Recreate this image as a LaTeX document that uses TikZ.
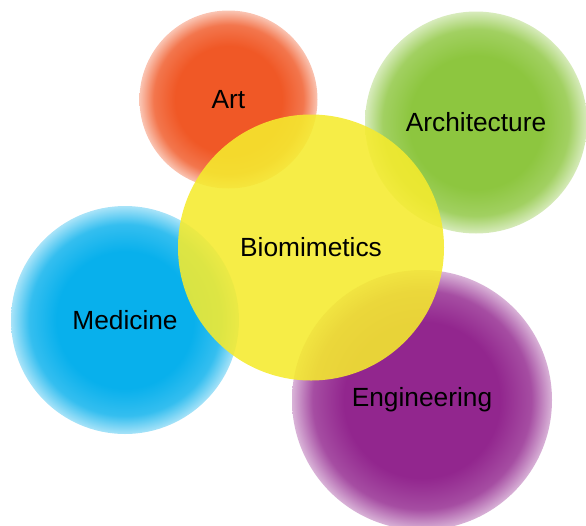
\documentclass[tikz,border=0pt]{standalone}
\usepackage{fontspec}
\setmainfont{Liberation Sans}

\definecolor{artred}{RGB}{240,88,38}
\definecolor{archgreen}{RGB}{141,198,63}
\definecolor{medblue}{RGB}{8,176,236}
\definecolor{engpurple}{RGB}{146,38,142}
\definecolor{bioyellow}{RGB}{245,235,45}

% soft edged balls
\pgfdeclareradialshading{artball}{\pgfpoint{0bp}{0bp}}{color(0bp)=(artred);color(15bp)=(artred);color(21bp)=(artred!82!white);color(25bp)=(artred!35!white);color(50bp)=(white)}
\pgfdeclareradialshading{archball}{\pgfpoint{0bp}{0bp}}{color(0bp)=(archgreen);color(15bp)=(archgreen);color(21bp)=(archgreen!82!white);color(25bp)=(archgreen!35!white);color(50bp)=(white)}
\pgfdeclareradialshading{medball}{\pgfpoint{0bp}{0bp}}{color(0bp)=(medblue);color(15bp)=(medblue);color(21bp)=(medblue!82!white);color(25bp)=(medblue!35!white);color(50bp)=(white)}
\pgfdeclareradialshading{engball}{\pgfpoint{0bp}{0bp}}{color(0bp)=(engpurple);color(15bp)=(engpurple);color(21bp)=(engpurple!82!white);color(25bp)=(engpurple!35!white);color(50bp)=(white)}

\tikzset{
    ball/.style={circle, inner sep=0pt, text=black,
        font=\fontsize{26.3}{30}\selectfont}
}

\begin{document}
\begin{tikzpicture}[x=1pt, y=-1pt]
    \useasboundingbox (0,0) rectangle (586,525);

    % Art
    \node[ball, shading=artball, minimum size=178pt] (art) at (228.5,99.5) {Art};

    % Architecture
    \node[ball, shading=archball, minimum size=222pt] (arch) at (476,122.5) {Architecture};

    % Medicine
    \node[ball, shading=medball, minimum size=228pt] (med) at (125,320) {Medicine};

    % Engineering
    \node[ball, shading=engball, minimum size=260pt] (eng) at (422,400) {Engineering};

    % Biomimetics (in front)
    \node[ball, fill=bioyellow, fill opacity=0.88, text opacity=1,
        minimum size=266pt] (bio) at (311,247.5) {Biomimetics};
\end{tikzpicture}
\end{document}
